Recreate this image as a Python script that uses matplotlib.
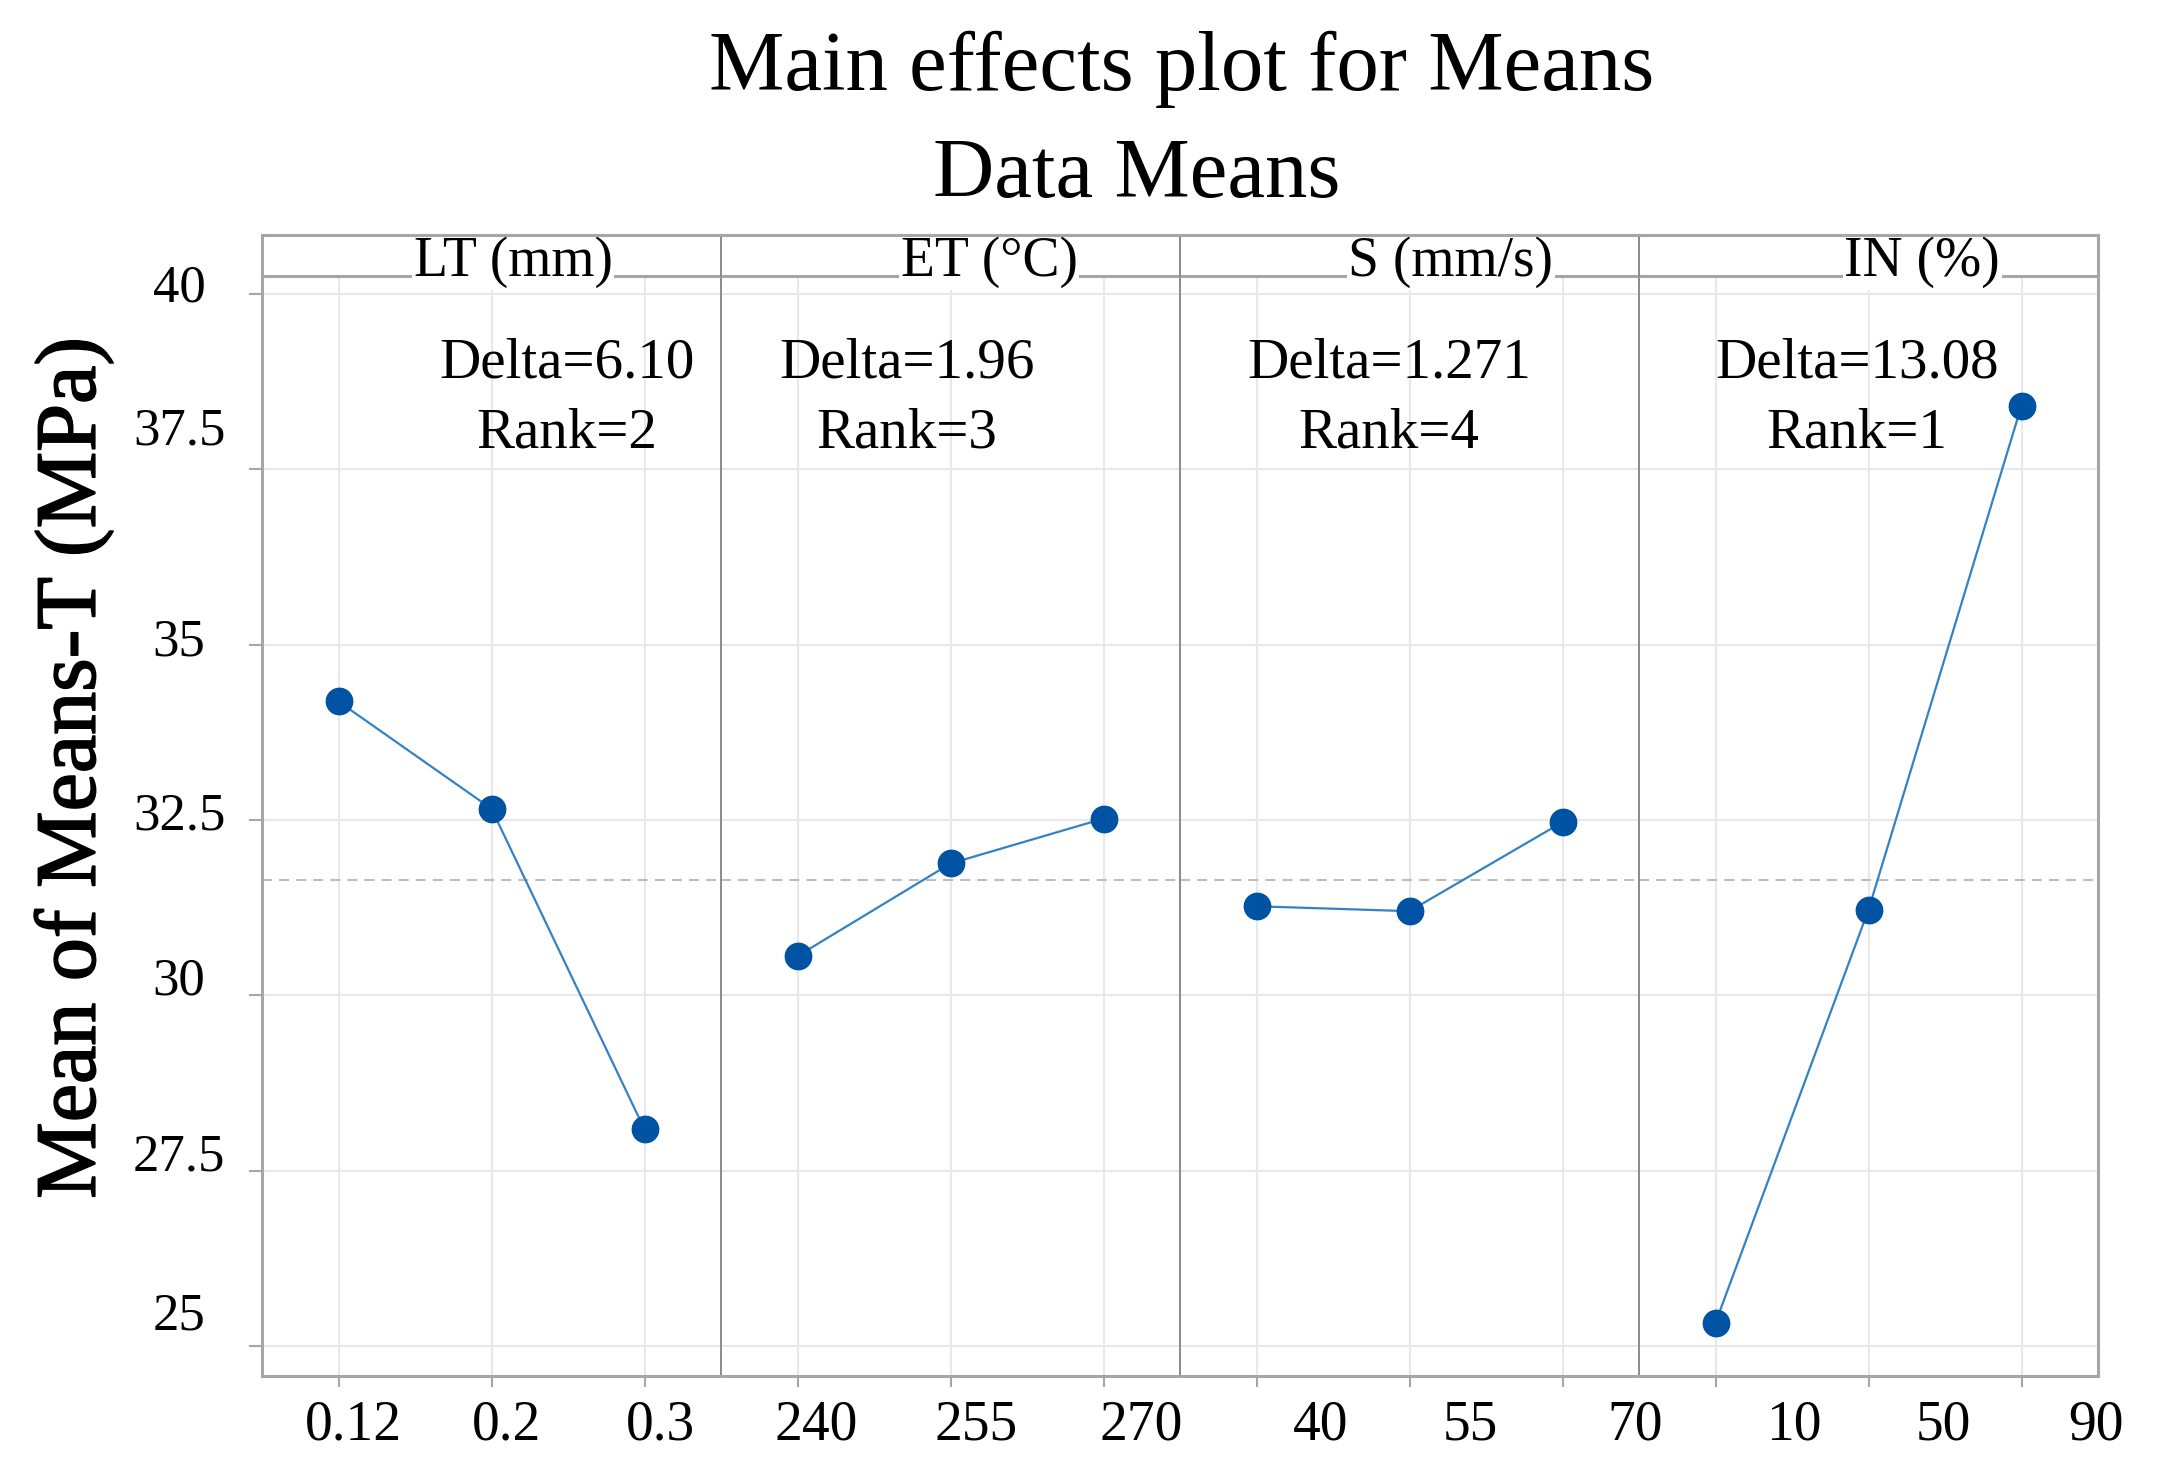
import matplotlib
matplotlib.use('Agg')
import matplotlib.pyplot as plt
import matplotlib.patheffects as pe
from matplotlib.transforms import ScaledTranslation, blended_transform_factory

plt.rcParams['font.family'] = ['Liberation Serif', 'DejaVu Serif']

# ---------------- data ----------------
title_line1 = 'Main effects plot for Means'
title_line2 = 'Data Means'
y_label = 'Mean of Means-T (MPa)'
factor_names = ['LT (mm)', 'ET (°C)', 'S (mm/s)', 'IN (%)']
lt_levels = ['0.12', '0.2', '0.3']
et_levels = ['240', '255', '270']
s_levels = ['40', '55', '70']
in_levels = ['10', '50', '90']
lt_means = [34.19, 32.66, 28.09]
et_means = [30.56, 31.88, 32.52]
s_means = [31.27, 31.20, 32.47]
in_means = [25.33, 31.22, 38.41]
delta_labels = ['6.10', '1.96', '1.271', '13.08']
rank_labels = ['2', '3', '4', '1']
grand_mean = 31.65
y_ticks = [25, 27.5, 30, 32.5, 35, 37.5, 40]
y_tick_labels = ['25', '27.5', '30', '32.5', '35', '37.5', '40']
y_limits = (24.572, 40.257)

level_sets = [lt_levels, et_levels, s_levels, in_levels]
mean_sets = [lt_means, et_means, s_means, in_means]

# ---------------- layout / style ----------------
W, H, DPI = 2159, 1475, 100
left_px, right_px = 262, 2098
top_px, bottom_px, strip_top_px = 276, 1376, 235
pw = (right_px - left_px) / 4.0

# label placement tweaks (pixels)
xlabel_dx_px = [15, 15, 16, 19, 26, 38, 64, 61, 73, 78, 75, 75]
xlabel_dy_px = 24
ylabel_base_dy_px = [-16, 0, -1, 9, 11, -25, 7]   # + = below tick
ylabel_center_x_px = 179
strip_label_xfrac = [0.547, 0.584, 0.590, 0.617]
stat_xfrac = [0.664, 0.405, 0.455, 0.475]
delta_yfrac = 0.908
rank_yfrac = 0.844

marker_color = '#0052A3'
line_color = '#3383C4'
grid_color = '#E8E8E8'
outer_color = '#A6A6A6'
inner_color = '#8A8A8A'
mean_line_color = '#BDBDBD'

fig = plt.figure(figsize=(W / DPI, H / DPI), dpi=DPI)
fig.patch.set_facecolor('white')

def fx(px):
    return px / W

def fy(py):
    return 1 - py / H

axes = []
for i in range(4):
    ax = fig.add_axes([fx(left_px + i * pw), fy(bottom_px), pw / W,
                       (bottom_px - top_px) / H])
    axes.append(ax)
    x = list(range(1, len(level_sets[i]) + 1))
    ax.set_xlim(0.5, 3.5)
    ax.set_ylim(*y_limits)
    ax.set_xticks(x)
    ax.set_yticks(y_ticks)
    ax.set_xticklabels([])
    ax.set_yticklabels([])
    ax.grid(True, color=grid_color, lw=1.5, zorder=0)
    ax.set_axisbelow(True)
    ax.axhline(grand_mean, color=mean_line_color, lw=1.5,
               dashes=(4.8, 3.4), zorder=1)
    ax.plot(x, mean_sets[i], color=line_color, lw=1.6, zorder=3)
    ax.plot(x, mean_sets[i], ls='none', marker='o', ms=19,
            mfc=marker_color, mec=marker_color, zorder=4)

    # spines
    for s in ['top', 'bottom']:
        ax.spines[s].set_color(outer_color)
        ax.spines[s].set_linewidth(2.2)
    ax.spines['left'].set_color(outer_color if i == 0 else inner_color)
    ax.spines['left'].set_linewidth(2.2 if i == 0 else 1.4)
    ax.spines['right'].set_visible(i == 3)
    ax.spines['right'].set_color(outer_color)
    ax.spines['right'].set_linewidth(2.2)

    ax.tick_params(axis='x', length=8, width=1.5, color=outer_color,
                   direction='out')
    if i == 0:
        ax.tick_params(axis='y', length=9.4, width=1.5, color=outer_color,
                       direction='out')
    else:
        ax.tick_params(axis='y', length=0)

    # x tick labels
    tx = blended_transform_factory(ax.transData, ax.transAxes)
    for j, lab in enumerate(level_sets[i]):
        k = i * 3 + j
        off = ScaledTranslation(xlabel_dx_px[k] / DPI, -xlabel_dy_px / DPI,
                                fig.dpi_scale_trans)
        ax.text(x[j], 0, lab, transform=tx + off, ha='center', va='top',
                fontsize=40, clip_on=False)

    # Delta / Rank
    ax.text(stat_xfrac[i], delta_yfrac, 'Delta=' + delta_labels[i],
            transform=ax.transAxes, ha='center', va='baseline', fontsize=41)
    ax.text(stat_xfrac[i], rank_yfrac, 'Rank=' + rank_labels[i],
            transform=ax.transAxes, ha='center', va='baseline', fontsize=41)

# y tick labels on first panel
ax0 = axes[0]
ty = blended_transform_factory(fig.transFigure, ax0.transData)
for v, lab, d in zip(y_ticks, y_tick_labels, ylabel_base_dy_px):
    off = ScaledTranslation(0, -d / DPI, fig.dpi_scale_trans)
    fig.text(fx(ylabel_center_x_px), v, lab, transform=ty + off,
             ha='center', va='baseline', fontsize=38)

# strips
for i in range(4):
    sax = fig.add_axes([fx(left_px + i * pw), fy(top_px), pw / W,
                        (top_px - strip_top_px) / H])
    sax.set_facecolor('none')
    sax.set_xticks([])
    sax.set_yticks([])
    sax.spines['bottom'].set_visible(False)
    sax.spines['top'].set_color(outer_color)
    sax.spines['top'].set_linewidth(2.2)
    sax.spines['left'].set_color(outer_color if i == 0 else inner_color)
    sax.spines['left'].set_linewidth(2.2 if i == 0 else 1.4)
    sax.spines['right'].set_visible(i == 3)
    sax.spines['right'].set_color(outer_color)
    sax.spines['right'].set_linewidth(2.2)
    sax.text(strip_label_xfrac[i], 0.0, factor_names[i],
             transform=sax.transAxes, ha='center', va='baseline',
             fontsize=40, zorder=2, clip_on=False,
             bbox=dict(facecolor='white', edgecolor='none', pad=1))

# titles and axis label
fig.text(1182 / W, fy(90), title_line1, ha='center', va='baseline',
         fontsize=61)
fig.text(1137 / W, fy(197), title_line2, ha='center', va='baseline',
         fontsize=61)
fig.text(74 / W, fy(768), y_label, rotation=90, ha='center', va='center',
         fontsize=62,
         path_effects=[pe.withStroke(linewidth=1.2, foreground='black')])

fig.savefig('out.png', dpi=DPI, facecolor='white')
